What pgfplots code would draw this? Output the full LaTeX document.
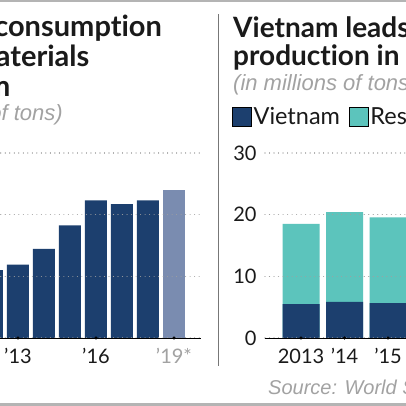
\documentclass[border=0pt]{standalone}
\usepackage{pgfplots}
\pgfplotsset{compat=1.18}
\usepackage{fontspec}
\setmainfont{Lato}[Ligatures=NoCommon]
\newfontfamily\subfont{Liberation Sans}
\definecolor{navy}{HTML}{1C3F6E}
\definecolor{lnavy}{HTML}{7A8CB0}
\definecolor{teal2}{HTML}{5CC4BC}
\definecolor{gridc}{HTML}{A0A0A0}
\definecolor{txt}{HTML}{1A1A1A}
\definecolor{subg}{HTML}{A2A2A2}
\definecolor{divc}{HTML}{777777}
\definecolor{framec}{HTML}{B4B4B4}
\pgfplotsset{mybase/.style={scale only axis, axis on top, clip=false,
  axis x line*=bottom, axis y line*=left,
  y axis line style={draw=none}, x axis line style={black, line width=0.8pt},
  tick style={draw=none}, ymajorgrids,
  grid style={gridc, line width=1.1pt, dash pattern=on 0.01pt off 4.5pt, line cap=round},
  ticklabel style={font=\fontsize{20}{24}\selectfont, text=txt},
  xticklabel style={inner sep=0pt, anchor=north, text height=15pt, text depth=0pt, yshift=-10pt},
  yticklabel style={inner sep=0pt, anchor=east, xshift=-8.3pt},
  /pgf/number format/assume math mode=true}}
\begin{document}
\begin{tikzpicture}[x=1pt,y=1pt]
\begin{scope}
\clip (0,0) rectangle (406,406);
\fill[white] (0,0) rectangle (406,406);
\fill[framec] (0,404) rectangle (406,406);
\fill[framec] (0,0) rectangle (406,2.5);
\draw[divc, line width=1.5pt] (218.3,40) -- (218.3,392);
% left titles
\node[anchor=base east, inner sep=0pt, font=\fontsize{29}{33}\selectfont\bfseries, text=txt] at (162,369.3) {Vietnam's steel consumption};
\node[anchor=base east, inner sep=0pt, font=\fontsize{29}{33}\selectfont\bfseries, text=txt] at (89.5,339.3) {of raw materials};
\node[anchor=base east, inner sep=0pt, font=\fontsize{29}{33}\selectfont\bfseries, text=txt] at (10.5,309.3) {boom in Vietnam};
\node[anchor=base east, inner sep=0pt, font=\fontsize{22}{25}\subfont\itshape, text=subg] at (63,285.5) {(in millions of tons)};
% right titles
\node[anchor=base west, inner sep=0pt, font=\fontsize{28}{32}\selectfont\bfseries, text=txt] at (233,368.7) {Vietnam leads steel};
\node[anchor=base west, inner sep=0pt, font=\fontsize{28}{32}\selectfont\bfseries, text=txt] at (233,340.7) {production in Southeast Asia};
\node[anchor=base west, inner sep=0pt, font=\fontsize{22}{25}\subfont\itshape, text=subg] at (233,315.5) {(in millions of tons)};
\node[anchor=base west, inner sep=0pt, font=\fontsize{20}{24}\subfont\itshape, text=subg] at (268,11) {Source: World Steel Association};
% left chart
\begin{axis}[mybase, at={(-112pt,68pt)}, anchor=south west, width=313pt, height=185pt,
  xmin=2008, xmax=2020.04, ymin=0, ymax=60, ytick={0,20,40,60},
  xtick={2013,2016,2019}, xticklabels={’13,’16,\textcolor{subg}{’19*}}]
\addplot[ybar, bar width=22pt, bar shift=0pt, fill=navy, draw=none] coordinates {(2012,22.05) (2013,23.8) (2014,28.9) (2015,36.5) (2016,44.65) (2017,43.4) (2018,44.65)};
\addplot[ybar, bar width=22pt, bar shift=0pt, fill=lnavy, draw=none] coordinates {(2019,48.0)};
\addplot[only marks, mark=*, mark size=1.4pt, black] coordinates {(2013,0) (2016,0) (2019,0)};
\end{axis}
% right chart
\begin{axis}[mybase, at={(265pt,68pt)}, anchor=south west, width=318.8pt, height=185pt,
  xmin=2012.172, xmax=2019.5, ymin=0, ymax=30, ytick={0,10,20,30},
  xtick={2013,...,2019}, xticklabels={2013,’14,’15,’16,’17,’18,’19},
  legend image code/.code={\fill[#1] (0pt,-9.5pt) rectangle (19pt,9.5pt);},
  legend style={at={(axis description cs:-0.1035,1.1973)}, anchor=west, draw=none, fill=none, inner sep=0pt,
    font=\fontsize{23.5}{27}\selectfont, text=txt, legend columns=-1,
    nodes={inner sep=2pt},
    /tikz/every even column/.append style={column sep=7pt}}]
\addplot[ybar, bar width=37pt, bar shift=0pt, fill=teal2, draw=none, forget plot] coordinates {(2013,18.5) (2014,20.4) (2015,19.56)};
\addplot[ybar, bar width=37pt, bar shift=0pt, fill=navy, draw=none, forget plot] coordinates {(2013,5.48) (2014,5.85) (2015,5.64)};
\addplot[only marks, mark=*, mark size=1.4pt, black, forget plot] coordinates {(2013,0) (2014,0) (2015,0)};
\addlegendimage{fill=navy}\addlegendentry{Vietnam}
\addlegendimage{fill=teal2}\addlegendentry{Rest of Southeast Asia}
\end{axis}
\end{scope}
\pgfresetboundingbox
\useasboundingbox (0,0) rectangle (406,406);
\end{tikzpicture}
\end{document}
